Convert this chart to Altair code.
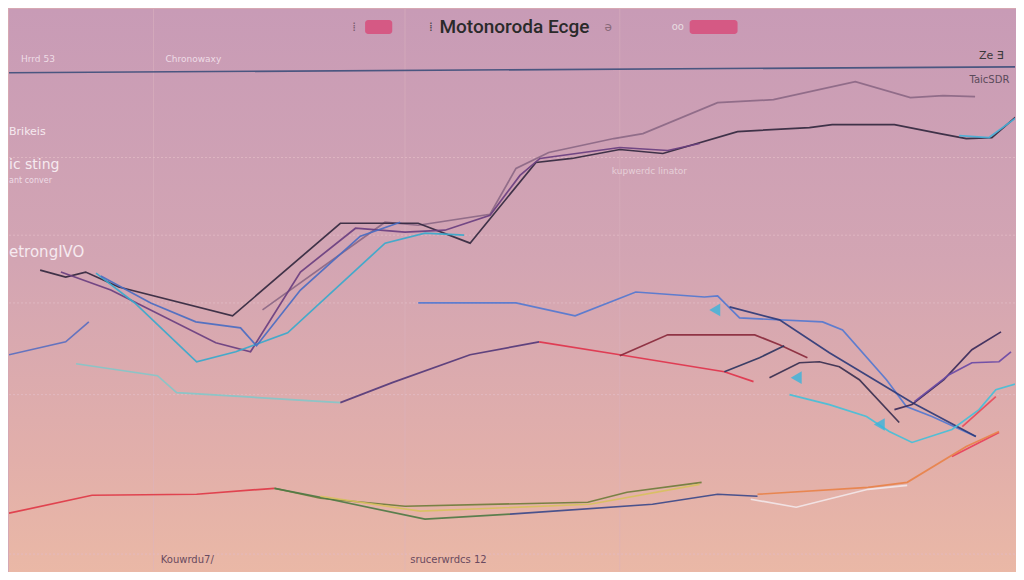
import altair as alt
import pandas as pd

# ---------------- data (x: period index, y: index value) ----------------
series_names = [
    "mauve", "main", "violet", "teal", "blue", "paleteal", "plum", "red",
    "darkred", "bluemid", "navy", "dash1", "dash2", "rise1", "rise2", "cyanfall",
    "red2a", "red2b", "redlow", "olive", "green", "navylow", "orange", "pale",
    "yellow", "blueleft", "cyantop",
]
series_colors = [
    "#8c6886", "#33283f", "#6a3f80", "#38a9cc", "#4a6cc2", "#86c6c8", "#55397a", "#e0344c",
    "#8a2a3c", "#5478d0", "#2f3b78", "#2e3560", "#3a3050", "#3a2a5a", "#6a4aa6", "#45bfd8",
    "#e84a5a", "#e8405a", "#e03a48", "#6f7d3c", "#4f7a45", "#3d4a8a", "#e8824a", "#f2e6e8",
    "#d8c060", "#5a6fc0", "#4ab0d8",
]
series_x = [
    [31.75, 47.1, 51.25, 60.25, 63.5, 67.6, 75.75, 79.4, 88.75, 95.75, 106, 112.9, 117, 121],
    [3.9, 7.1, 9.6, 13.75, 28, 41.5, 51.25, 57.75, 66, 70.5, 76.5, 81.9, 91.25, 100.25, 103.1, 110.9, 116.6, 119.9, 123.1, 127],
    [6.5, 12.75, 25.9, 30.25, 36.5, 43.4, 49.6, 54.6, 60.25, 64, 66.5, 76.5, 82.5, 86.5],
    [10.9, 15.75, 23.5, 28.4, 34.9, 47.1, 52.1, 57],
    [11.5, 17.75, 23.4, 29, 31, 36.5, 44, 49],
    [8.4, 18.6, 21, 41.5],
    [41.5, 48, 57.75, 66.4],
    [66.4, 76.5, 89.6, 93.25],
    [76.5, 82.5, 93.4, 96.5, 100],
    [51.25, 63.5, 70.9, 78.5, 87.1, 88.75, 91.5, 101.9, 104.4, 109.9, 112.4, 115.6, 121.1],
    [90.25, 96.5, 102.75, 109, 113.1, 121.1],
    [89.6, 94, 97.1],
    [95.25, 99, 101.5, 104, 106.5, 111.5],
    [110.9, 113.1, 117.1, 120.6, 124.25],
    [113.4, 117.75, 120.6, 124, 125.5],
    [97.75, 102.75, 107.4, 110.25, 113.1, 118.1, 121.5, 123.6, 127],
    [119.4, 123.6],
    [118.1, 124],
    [0, 10.4, 23.5, 33.25],
    [33.25, 39, 49.6, 72.5, 77.4, 86.75],
    [33.25, 39, 52.1, 62.75],
    [62.75, 80.6, 88.75, 93.75],
    [93.75, 107.6, 112.5, 119.9, 124],
    [92.9, 98.6, 107.6, 112.5],
    [39, 51.5, 72.75, 86.5],
    [0, 7.1, 10],
    [119, 122.75, 127],
]
series_y = [
    [65.5, 87.5, 86.75, 89.5, 101, 105, 108.5, 109.75, 117.5, 118.25, 122.75, 118.75, 119.25, 119],
    [75.5, 73.75, 75, 71.25, 64, 87.25, 87.25, 82.25, 102.5, 103.5, 105.75, 104.75, 110.25, 111.25, 112, 112, 109.75, 108.5, 108.75, 115.5],
    [75, 70.5, 57.25, 55, 75, 86, 85, 85.5, 89.25, 99.25, 103.5, 106.25, 105.5, 107.25],
    [74.75, 67.25, 52.5, 55, 59.75, 82.25, 84.75, 84.25],
    [74, 67.25, 62.5, 61, 56.5, 70.5, 84, 87.5],
    [52, 49, 44.75, 42.25],
    [42.25, 47.25, 54.25, 57.5],
    [57.5, 54.25, 50, 47.5],
    [54, 59.25, 59.25, 56.75, 53.5],
    [67.25, 67.25, 64, 70, 68.75, 69, 63.5, 62.5, 60.5, 48, 41.25, 38.75, 33.75],
    [66.25, 63, 54.75, 47.25, 42.25, 33.75],
    [50, 53.5, 56.5],
    [48.5, 52.25, 52.5, 51.25, 48, 37.25],
    [40.5, 41.75, 48, 55.5, 60],
    [42.5, 49.25, 52.25, 52.5, 55],
    [44.25, 41.75, 38.75, 35, 32.25, 35.5, 40.5, 45.5, 47.5],
    [36.25, 43.75],
    [28.75, 34.75],
    [14.5, 19, 19.25, 20.75],
    [20.75, 18.25, 16.25, 17.25, 19.75, 22.25],
    [20.75, 18.5, 13, 14.25],
    [14.25, 16.75, 19.25, 18.75],
    [19.25, 21, 22.25, 31.25, 35],
    [18, 16, 20.5, 21.5],
    [18.75, 15, 16.75, 21.75],
    [54.25, 57.5, 62.5],
    [109.25, 108.75, 115],
]

marker_x = [88.4, 98.6, 109]
marker_y = [65.5, 48.5, 36.75]

grid_y = [103.75, 84.25, 67.25, 44.25, 4.25]
grid_x = [18.1, 49.6, 76.5]

swatch_x = [44.6, 85.25]
swatch_x2 = [48, 91.25]
swatch_y = [138.25, 138.25]
swatch_y2 = [134.75, 134.75]

title_text = "Motonoroda Ecge"
label_text = ["⁞", "⁞", "ə", "oo", "Hrrd 53", "Chronowaxy", "Ze ∃", "TaicSDR",
              "Brikeis", "ic sting", "ant conver", "etrongIVO", "kupwerdc linator",
              "Kouwrdu7/", "srucerwrdcs 12"]
label_x = [43.0, 52.6, 74.6, 83, 1.5, 19.6, 121.5, 120.3,
           0, 0, 0, 0, 75.5, 19, 50.25]
label_y = [136.5, 136.5, 136.5, 136.5, 128.5, 128.5, 129.25, 123.25,
           110.25, 101.75, 97.75, 80, 100.25, 2.75, 2.75]
label_size = [12, 12, 12, 10, 9, 9, 11, 10, 11, 14, 8, 15, 9, 10, 10]
label_color = ["#7a5a6a", "#444444", "#8a6a7a", "#e8dde0", "#eedce6", "#eedce6", "#3a3a3a", "#5a4a5a",
               "#f6eaf0", "#f6eaf0", "#eedce6", "#f6eaf0", "#e6cfd8", "#6a4a60", "#6a4a60"]

# ---------------- build tables ----------------
rows = []
for name, xs_, ys_ in zip(series_names, series_x, series_y):
    for i, (xv, yv) in enumerate(zip(xs_, ys_)):
        rows.append({"series": name, "i": i, "x": xv, "y": yv})
lines_df = pd.DataFrame(rows)

W, H = 1008, 564
xs = alt.Scale(domain=[0, 126], nice=False, zero=False)
ys = alt.Scale(domain=[0, 141], nice=False, zero=False)

bg = alt.Chart(alt.Data(values=[{}])).mark_rect(
    fill=alt.Gradient(
        gradient="linear", x1=0, x2=0, y1=0, y2=1,
        stops=[alt.GradientStop(color="#c89bb6", offset=0),
               alt.GradientStop(color="#d3a5b3", offset=0.45),
               alt.GradientStop(color="#e2afaa", offset=0.8),
               alt.GradientStop(color="#eab8a6", offset=1)]
    )
).encode(x=alt.value(0), x2=alt.value(W), y=alt.value(0), y2=alt.value(H))

hgrid = alt.Chart(pd.DataFrame({"g": grid_y})).mark_rule(
    color="#e2bcc6", strokeWidth=1, strokeDash=[2, 2], opacity=0.8
).encode(y=alt.Y("g:Q", scale=ys, axis=None))

vgrid = alt.Chart(pd.DataFrame({"g": grid_x})).mark_rule(
    color="#dcb4c0", strokeWidth=1, opacity=0.5
).encode(x=alt.X("g:Q", scale=xs, axis=None))

topline = alt.Chart(pd.DataFrame({"x": [0], "x2": [127], "y": [125], "y2": [126.5]})).mark_rule(
    color="#4a5680", strokeWidth=1.6, clip=True
).encode(x=alt.X("x:Q", scale=xs, axis=None), x2="x2:Q",
         y=alt.Y("y:Q", scale=ys, axis=None), y2="y2:Q")

lines = alt.Chart(lines_df).mark_line(strokeWidth=1.7, clip=True, opacity=0.92).encode(
    x=alt.X("x:Q", scale=xs, axis=None),
    y=alt.Y("y:Q", scale=ys, axis=None),
    color=alt.Color("series:N", scale=alt.Scale(domain=series_names, range=series_colors), legend=None),
    detail="series:N",
    order="i:Q",
)

markers = alt.Chart(pd.DataFrame({"x": marker_x, "y": marker_y})).mark_point(
    shape="triangle-left", filled=True, size=160, color="#38b4dc", opacity=0.8
).encode(x=alt.X("x:Q", scale=xs, axis=None), y=alt.Y("y:Q", scale=ys, axis=None))

swatches = alt.Chart(pd.DataFrame({"x": swatch_x, "x2": swatch_x2, "y": swatch_y, "y2": swatch_y2})).mark_rect(
    color="#d84878", opacity=0.8, cornerRadius=3
).encode(x=alt.X("x:Q", scale=xs, axis=None), x2="x2:Q",
         y=alt.Y("y:Q", scale=ys, axis=None), y2="y2:Q")

title = alt.Chart(pd.DataFrame({"t": [title_text], "x": [63.3], "y": [136.5]})).mark_text(
    font="Roboto", fontSize=19, fontWeight=500, color="#2a2a2a", align="center", baseline="middle"
).encode(x=alt.X("x:Q", scale=xs, axis=None), y=alt.Y("y:Q", scale=ys, axis=None), text="t:N")

labels = alt.Chart(pd.DataFrame({"t": label_text, "x": label_x, "y": label_y,
                                 "s": label_size, "c": label_color})).mark_text(
    font="DejaVu Sans", align="left", baseline="middle"
).encode(x=alt.X("x:Q", scale=xs, axis=None), y=alt.Y("y:Q", scale=ys, axis=None),
         text="t:N", size=alt.Size("s:Q", scale=None), color=alt.Color("c:N", scale=None))

chart = alt.layer(bg, vgrid, hgrid, topline, lines, markers, swatches, title, labels).properties(
    width=W, height=H, padding=0, background="#d6a8b2",
    autosize=alt.AutoSizeParams(type="fit", contains="padding"),
).configure_view(stroke=None)

chart.save("out.html", embed_options={"renderer": "svg", "actions": False})
